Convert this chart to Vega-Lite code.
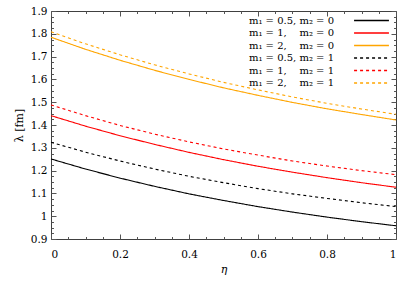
{
  "$schema": "https://vega.github.io/schema/vega-lite/v6.json",
  "width": 345,
  "height": 228,
  "padding": {"left": 13, "top": 6, "right": 8, "bottom": 3},
  "background": "white",
  "config": {
    "view": {"stroke": "#404040", "strokeWidth": 1},
    "font": "DejaVu Serif",
    "legend": {"labelFont": "DejaVu Serif"},
    "axis": {"grid": false, "domain": false, "labelFont": "DejaVu Serif", "titleFont": "DejaVu Serif", "labelFontSize": 10.5, "titleFontSize": 11, "labelColor": "#000", "titleColor": "#000", "tickColor": "#555", "titleFontWeight": "normal"}
  },
  "datasets": {
    "curves": [
      {"eta": 0.0, "lambda": 1.251, "series": "a"},
      {"eta": 0.1, "lambda": 1.207, "series": "a"},
      {"eta": 0.2, "lambda": 1.167, "series": "a"},
      {"eta": 0.3, "lambda": 1.131, "series": "a"},
      {"eta": 0.4, "lambda": 1.098, "series": "a"},
      {"eta": 0.5, "lambda": 1.069, "series": "a"},
      {"eta": 0.6, "lambda": 1.042, "series": "a"},
      {"eta": 0.7, "lambda": 1.018, "series": "a"},
      {"eta": 0.8, "lambda": 0.996, "series": "a"},
      {"eta": 0.9, "lambda": 0.976, "series": "a"},
      {"eta": 1.0, "lambda": 0.958, "series": "a"},
      {"eta": 0.0, "lambda": 1.441, "series": "b"},
      {"eta": 0.1, "lambda": 1.395, "series": "b"},
      {"eta": 0.2, "lambda": 1.353, "series": "b"},
      {"eta": 0.3, "lambda": 1.315, "series": "b"},
      {"eta": 0.4, "lambda": 1.280, "series": "b"},
      {"eta": 0.5, "lambda": 1.248, "series": "b"},
      {"eta": 0.6, "lambda": 1.219, "series": "b"},
      {"eta": 0.7, "lambda": 1.193, "series": "b"},
      {"eta": 0.8, "lambda": 1.169, "series": "b"},
      {"eta": 0.9, "lambda": 1.147, "series": "b"},
      {"eta": 1.0, "lambda": 1.127, "series": "b"},
      {"eta": 0.0, "lambda": 1.785, "series": "c"},
      {"eta": 0.1, "lambda": 1.732, "series": "c"},
      {"eta": 0.2, "lambda": 1.684, "series": "c"},
      {"eta": 0.3, "lambda": 1.640, "series": "c"},
      {"eta": 0.4, "lambda": 1.600, "series": "c"},
      {"eta": 0.5, "lambda": 1.563, "series": "c"},
      {"eta": 0.6, "lambda": 1.530, "series": "c"},
      {"eta": 0.7, "lambda": 1.499, "series": "c"},
      {"eta": 0.8, "lambda": 1.471, "series": "c"},
      {"eta": 0.9, "lambda": 1.446, "series": "c"},
      {"eta": 1.0, "lambda": 1.422, "series": "c"},
      {"eta": 0.0, "lambda": 1.324, "series": "d"},
      {"eta": 0.1, "lambda": 1.281, "series": "d"},
      {"eta": 0.2, "lambda": 1.242, "series": "d"},
      {"eta": 0.3, "lambda": 1.207, "series": "d"},
      {"eta": 0.4, "lambda": 1.175, "series": "d"},
      {"eta": 0.5, "lambda": 1.147, "series": "d"},
      {"eta": 0.6, "lambda": 1.121, "series": "d"},
      {"eta": 0.7, "lambda": 1.098, "series": "d"},
      {"eta": 0.8, "lambda": 1.078, "series": "d"},
      {"eta": 0.9, "lambda": 1.059, "series": "d"},
      {"eta": 1.0, "lambda": 1.042, "series": "d"},
      {"eta": 0.0, "lambda": 1.488, "series": "e"},
      {"eta": 0.1, "lambda": 1.441, "series": "e"},
      {"eta": 0.2, "lambda": 1.398, "series": "e"},
      {"eta": 0.3, "lambda": 1.360, "series": "e"},
      {"eta": 0.4, "lambda": 1.326, "series": "e"},
      {"eta": 0.5, "lambda": 1.295, "series": "e"},
      {"eta": 0.6, "lambda": 1.268, "series": "e"},
      {"eta": 0.7, "lambda": 1.242, "series": "e"},
      {"eta": 0.8, "lambda": 1.220, "series": "e"},
      {"eta": 0.9, "lambda": 1.200, "series": "e"},
      {"eta": 1.0, "lambda": 1.182, "series": "e"},
      {"eta": 0.0, "lambda": 1.809, "series": "f"},
      {"eta": 0.1, "lambda": 1.756, "series": "f"},
      {"eta": 0.2, "lambda": 1.708, "series": "f"},
      {"eta": 0.3, "lambda": 1.664, "series": "f"},
      {"eta": 0.4, "lambda": 1.624, "series": "f"},
      {"eta": 0.5, "lambda": 1.587, "series": "f"},
      {"eta": 0.6, "lambda": 1.554, "series": "f"},
      {"eta": 0.7, "lambda": 1.523, "series": "f"},
      {"eta": 0.8, "lambda": 1.495, "series": "f"},
      {"eta": 0.9, "lambda": 1.470, "series": "f"},
      {"eta": 1.0, "lambda": 1.447, "series": "f"}
    ]
  },
  "data": {"name": "curves"},
  "resolve": {"axis": {"x": "independent", "y": "independent"}},
  "layer": [
    {
      "mark": {"type": "line", "strokeWidth": 1.1, "opacity": 0},
      "encoding": {
        "x": {"field": "eta", "type": "quantitative", "scale": {"domain": [0, 1], "nice": false},
              "axis": {"orient": "bottom", "values": [0.05,0.1,0.15,0.25,0.3,0.35,0.45,0.5,0.55,0.65,0.7,0.75,0.85,0.9,0.95], "labels": false, "tickSize": -2.5, "title": null}},
        "y": {"field": "lambda", "type": "quantitative", "scale": {"domain": [0.9, 1.9], "nice": false, "zero": false},
              "axis": {"orient": "left", "values": [0.925,0.95,0.975,1.025,1.05,1.075,1.125,1.15,1.175,1.225,1.25,1.275,1.325,1.35,1.375,1.425,1.45,1.475,1.525,1.55,1.575,1.625,1.65,1.675,1.725,1.75,1.775,1.825,1.85,1.875], "labels": false, "tickSize": -2.5, "title": null}},
        "detail": {"field": "series"}
      }
    },
    {
      "mark": {"type": "line", "strokeWidth": 1.1, "opacity": 0},
      "encoding": {
        "x": {"field": "eta", "type": "quantitative",
              "axis": {"orient": "top", "values": [0,0.2,0.4,0.6,0.8,1], "labels": false, "tickSize": -5, "title": null}},
        "y": {"field": "lambda", "type": "quantitative",
              "axis": {"orient": "right", "values": [0.9,1,1.1,1.2,1.3,1.4,1.5,1.6,1.7,1.8,1.9], "labels": false, "tickSize": -5, "title": null}},
        "detail": {"field": "series"}
      }
    },
    {
      "mark": {"type": "line", "strokeWidth": 1.1, "opacity": 0},
      "encoding": {
        "x": {"field": "eta", "type": "quantitative",
              "axis": {"orient": "top", "values": [0.05,0.1,0.15,0.25,0.3,0.35,0.45,0.5,0.55,0.65,0.7,0.75,0.85,0.9,0.95], "labels": false, "tickSize": -2.5, "title": null}},
        "y": {"field": "lambda", "type": "quantitative",
              "axis": {"orient": "right", "values": [0.925,0.95,0.975,1.025,1.05,1.075,1.125,1.15,1.175,1.225,1.25,1.275,1.325,1.35,1.375,1.425,1.45,1.475,1.525,1.55,1.575,1.625,1.65,1.675,1.725,1.75,1.775,1.825,1.85,1.875], "labels": false, "tickSize": -2.5, "title": null}},
        "detail": {"field": "series"}
      }
    },
    {
      "mark": {"type": "line", "strokeWidth": 1.1},
      "encoding": {
        "x": {"field": "eta", "type": "quantitative",
              "axis": {"orient": "bottom", "values": [0,0.2,0.4,0.6,0.8,1], "format": "~g", "tickSize": -5, "labelPadding": 15, "title": "η", "titleFontStyle": "italic", "titlePadding": 4}},
        "y": {"field": "lambda", "type": "quantitative",
              "axis": {"orient": "left", "values": [0.9,1,1.1,1.2,1.3,1.4,1.5,1.6,1.7,1.8,1.9], "format": "~g", "tickSize": -5, "labelPadding": 9, "title": "λ [fm]", "titlePadding": 6}},
        "color": {"field": "series", "type": "nominal",
                  "scale": {"domain": ["a", "b", "c", "d", "e", "f"],
                            "range": ["#000000", "#ff0000", "#ffa500", "#000000", "#ff0000", "#ffa500"]},
                  "legend": {"title": null, "orient": "top-right", "offset": 4, "symbolType": "M-4,0H4", "symbolSize": 76, "symbolStrokeWidth": 1.3,
                             "labelExpr": "{'a': 'm₁ = 0.5, m₂ = 0', 'b': 'm₁ = 1,\u00a0\u00a0\u00a0\u00a0m₂ = 0', 'c': 'm₁ = 2,\u00a0\u00a0\u00a0\u00a0m₂ = 0', 'd': 'm₁ = 0.5, m₂ = 1', 'e': 'm₁ = 1,\u00a0\u00a0\u00a0\u00a0m₂ = 1', 'f': 'm₁ = 2,\u00a0\u00a0\u00a0\u00a0m₂ = 1'}[datum.value]",
                             "labelFontSize": 10, "labelColor": "#000", "labelAlign": "right", "labelOffset": -43, "rowPadding": 1.5, "labelLimit": 300}},
        "strokeDash": {"field": "series", "type": "nominal",
                  "scale": {"domain": ["a", "b", "c", "d", "e", "f"],
                            "range": [[1, 0], [1, 0], [1, 0], [3, 3], [3, 3], [3, 3]]},
                  "legend": {"title": null, "orient": "top-right", "offset": 4, "symbolType": "M-4,0H4", "symbolSize": 76, "symbolStrokeWidth": 1.3,
                             "labelExpr": "{'a': 'm₁ = 0.5, m₂ = 0', 'b': 'm₁ = 1,\u00a0\u00a0\u00a0\u00a0m₂ = 0', 'c': 'm₁ = 2,\u00a0\u00a0\u00a0\u00a0m₂ = 0', 'd': 'm₁ = 0.5, m₂ = 1', 'e': 'm₁ = 1,\u00a0\u00a0\u00a0\u00a0m₂ = 1', 'f': 'm₁ = 2,\u00a0\u00a0\u00a0\u00a0m₂ = 1'}[datum.value]",
                             "labelFontSize": 10, "labelColor": "#000", "labelAlign": "right", "labelOffset": -43, "rowPadding": 1.5, "labelLimit": 300}}
      }
    }
  ]
}
